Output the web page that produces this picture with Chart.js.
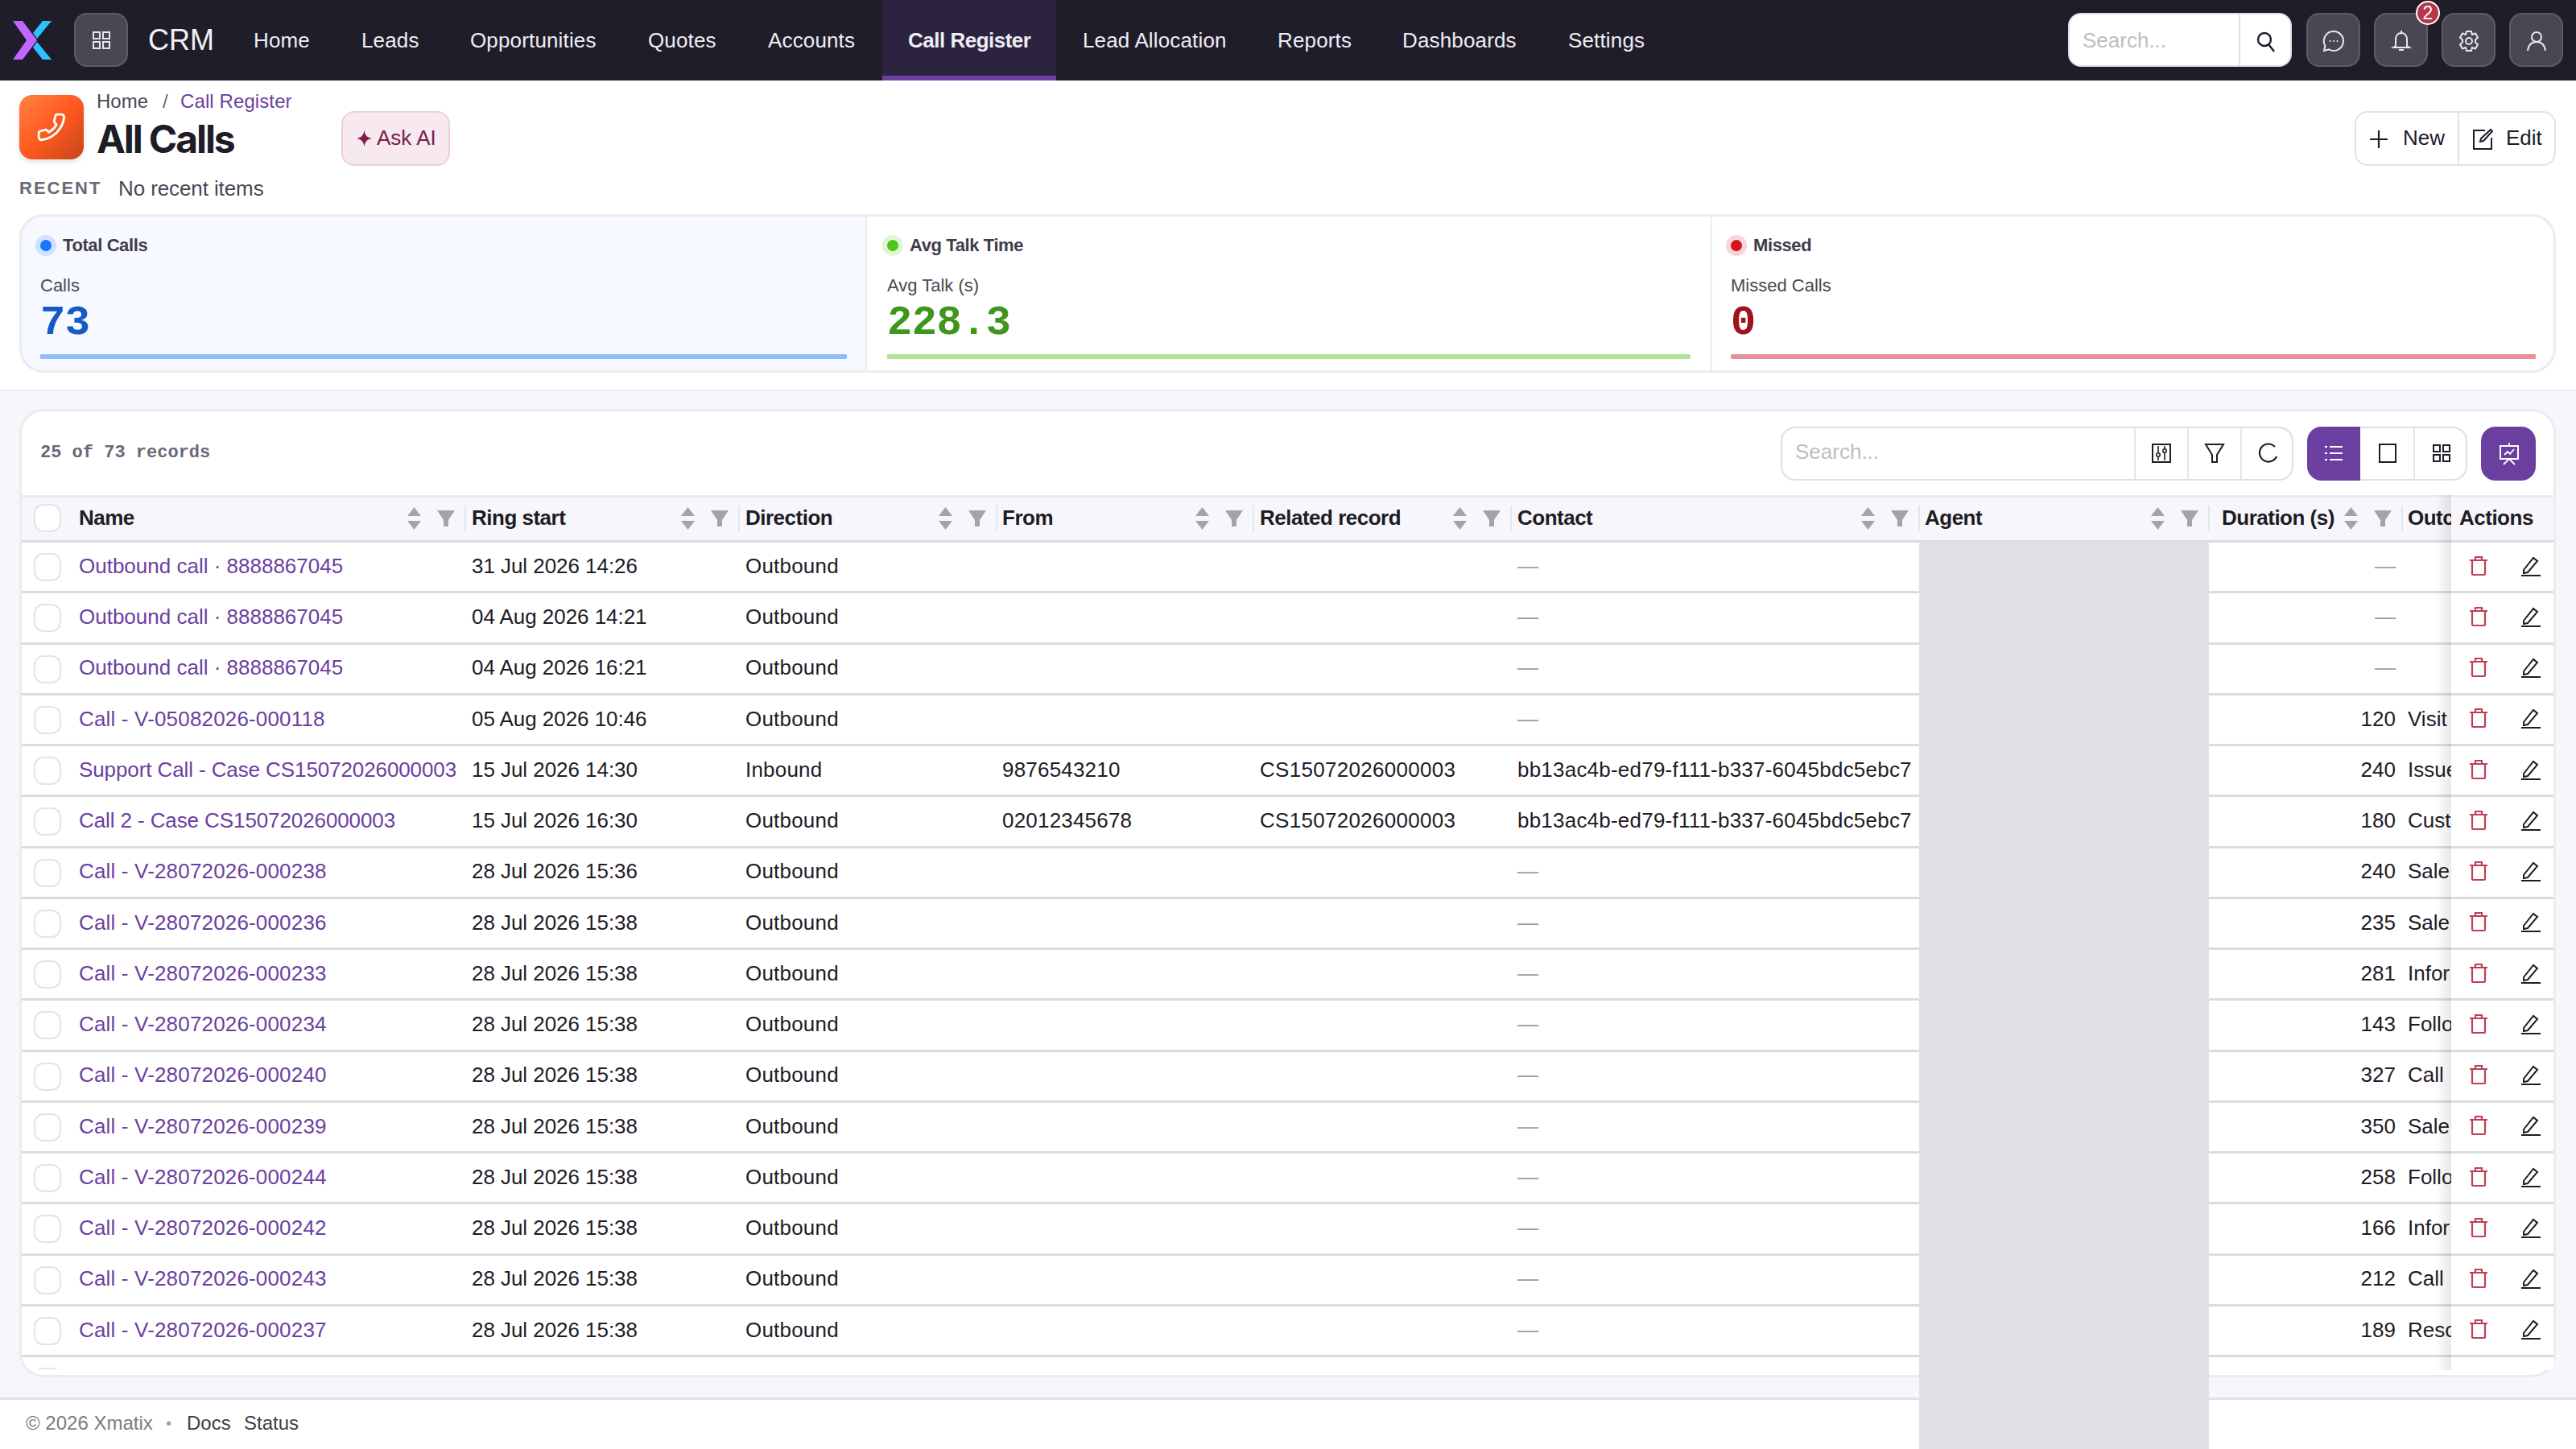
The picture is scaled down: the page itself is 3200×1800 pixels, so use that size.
<!DOCTYPE html>
<html><head><meta charset="utf-8">
<script src="https://cdn.jsdelivr.net/npm/chart.js@4"></script>
<style>
html,body{margin:0;padding:0;width:3200px;height:1800px;overflow:hidden;background:#fff;font-family:"Liberation Sans",Arial,sans-serif;color:#1e1c26}
.b{position:absolute;box-sizing:border-box}
.t{position:absolute;white-space:nowrap;line-height:1;transform:translateY(-50%)}
svg{position:absolute;overflow:visible}
canvas{position:absolute;display:block}
</style></head><body>
<div id="root" style="position:absolute;left:0;top:0;width:3200px;height:1800px;overflow:hidden"></div>
<script>
const navItems = ["Home","Leads","Opportunities","Quotes","Accounts","Call Register","Lead Allocation","Reports","Dashboards","Settings"];
const kpiTitles = ["Total Calls","Avg Talk Time","Missed"];
const kpiLabels = ["Calls","Avg Talk (s)","Missed Calls"];
const kpiDisplay = ["73","228.3","0"];
const kpiBarFill = [100,100,100];
const columns = ["Name","Ring start","Direction","From","Related record","Contact","Agent","Duration (s)","Outc"];
const names = ["Outbound call · 8888867045","Outbound call · 8888867045","Outbound call · 8888867045","Call - V-05082026-000118","Support Call - Case CS15072026000003","Call 2 - Case CS15072026000003","Call - V-28072026-000238","Call - V-28072026-000236","Call - V-28072026-000233","Call - V-28072026-000234","Call - V-28072026-000240","Call - V-28072026-000239","Call - V-28072026-000244","Call - V-28072026-000242","Call - V-28072026-000243","Call - V-28072026-000237"];
const ringStart = ["31 Jul 2026 14:26","04 Aug 2026 14:21","04 Aug 2026 16:21","05 Aug 2026 10:46","15 Jul 2026 14:30","15 Jul 2026 16:30","28 Jul 2026 15:36","28 Jul 2026 15:38","28 Jul 2026 15:38","28 Jul 2026 15:38","28 Jul 2026 15:38","28 Jul 2026 15:38","28 Jul 2026 15:38","28 Jul 2026 15:38","28 Jul 2026 15:38","28 Jul 2026 15:38"];
const direction = ["Outbound","Outbound","Outbound","Outbound","Inbound","Outbound","Outbound","Outbound","Outbound","Outbound","Outbound","Outbound","Outbound","Outbound","Outbound","Outbound"];
const fromNumbers = ["","","","","9876543210","02012345678","","","","","","","","","",""];
const related = ["","","","","CS15072026000003","CS15072026000003","","","","","","","","","",""];
const contacts = ["—","—","—","—","bb13ac4b-ed79-f111-b337-6045bdc5ebc7","bb13ac4b-ed79-f111-b337-6045bdc5ebc7","—","—","—","—","—","—","—","—","—","—"];
const durations = ["—","—","—",120,240,180,240,235,281,143,327,350,258,166,212,189];
const outcomes = ["","","","Visit","Issue","Cust","Sale","Sale","Infor","Follo","Call I","Sale","Follo","Infor","Call I","Reso"];

const root = document.getElementById('root');
const MONO = '"Liberation Mono",monospace';
function B(x,y,w,h,css){const d=document.createElement('div');d.className='b';d.style.cssText=`left:${x}px;top:${y}px;width:${w}px;height:${h}px;`+(css||'');(B.p||root).appendChild(d);return d;}
function T(x,yc,s,size,color,weight,extra){const d=document.createElement('div');d.className='t';d.textContent=s;d.style.cssText=`left:${x}px;top:${yc}px;font-size:${size}px;color:${color};font-weight:${weight||400};`+(extra||'');(B.p||root).appendChild(d);return d;}
function S(x,y,w,h,inner,vb,css){const wrap=document.createElement('div');wrap.innerHTML=`<svg xmlns="http://www.w3.org/2000/svg" style="left:${x}px;top:${y}px;${css||''}" width="${w}" height="${h}" viewBox="${vb||`0 0 ${w} ${h}`}" fill="none">${inner}</svg>`;(B.p||root).appendChild(wrap.firstChild);}
const LS='', LSB='letter-spacing:-0.5px;';
const PURPLE='#6b3fa0', INK='#1e1c26';

/* page background, footer */
B(0,484,3200,1252,'background:#f7f7fb;border-top:2px solid #eaeaf2');
B(0,1736,3200,64,'background:#fff;border-top:3px solid #e2e1ea');

/* top bar */
B(0,0,3200,100,'background:#201d2b');
S(16,26,48,48,'<path d="M0 0H12L30 24 12 48H0L17 24Z" fill="#c266ff"/><path d="M48 0H37L25 15 30 22 48 0Z" fill="#2fc0ff"/><path d="M25 33 37 48H48L30 26Z" fill="#2fc0ff"/>');
B(92,16,67,67,'background:#4a4753;border:2px solid #5f5c68;border-radius:16px');
const grid=(c)=>`<g stroke="${c}" stroke-width="2"><rect x="1" y="1" width="8" height="8"/><rect x="13" y="1" width="8" height="8"/><rect x="1" y="13" width="8" height="8"/><rect x="13" y="13" width="8" height="8"/></g>`;
S(115,39,22,22,grid('#e6e5ea'));
T(184,50,'CRM',36,'#f2f1f5',400,'');
const navX=[315,449,584,805,954,1128,1345,1587,1742,1948];
B(1096,0,216,100,'background:#2c2340;border-bottom:6px solid '+PURPLE);
navItems.forEach((n,i)=>T(navX[i],50,n,26,'#eeedf2',i===5?700:400,i===5?LSB:'letter-spacing:0.15px'));
B(2569,16,278,67,'background:#fff;border:2px solid #dfdfe8;border-radius:16px');
B(2781,17,2,65,'background:#dfdfe8');
T(2587,50,'Search...',26,'#bdbdc2',400,LS);
S(2803,39,24,26,'<circle cx="10" cy="10" r="8" stroke="#1e1c26" stroke-width="2.4"/><path d="M15 16 22 25" stroke="#1e1c26" stroke-width="2.4"/>');
[2865,2949,3033,3117].forEach(x=>B(x,16,67,67,'background:#4a4753;border:2px solid #5f5c68;border-radius:16px'));
const wh='#e9e8ee';
S(2886,38,26,26,`<path d="M13 1a12 12 0 1 1-6 22.4L1 25l1.4-6A12 12 0 0 1 13 1Z" stroke="${wh}" stroke-width="2"/><circle cx="8.5" cy="13" r="1.1" fill="${wh}"/><circle cx="13" cy="13" r="1.1" fill="${wh}"/><circle cx="17.5" cy="13" r="1.1" fill="${wh}"/>`);
S(2972,38,22,26,`<path d="M11 3c5 0 7 4 7 8v8l3 2H1l3-2v-8c0-4 2-8 7-8Z M11 0v3 M8 24h6" stroke="${wh}" stroke-width="2"/>`);
S(3054,38,26,26,`<path d="M10 1h6l1 4 4-1.5 3 5-3 3v3l3 3-3 5-4-1.5-1 4h-6l-1-4-4 1.5-3-5 3-3v-3l-3-3 3-5L9 5Z" stroke="${wh}" stroke-width="2"/><circle cx="13" cy="13" r="4" stroke="${wh}" stroke-width="2"/>`);
S(3139,39,24,24,`<circle cx="12" cy="7" r="6" stroke="${wh}" stroke-width="2"/><path d="M1 24c1-7 5-11 11-11s10 4 11 11" stroke="${wh}" stroke-width="2"/>`);
B(3001,1,30,30,'background:#b5384a;border:2px solid #fff;border-radius:50%');
T(3016,16,'2',23,'#fff',400,'transform:translate(-50%,-50%)');

/* page header */
B(24,118,80,80,'border-radius:16px;background:linear-gradient(135deg,#ff8146 0%,#ff5a1e 50%,#c6451b 100%);box-shadow:0 3px 6px rgba(0,0,0,.12)');
S(45,139,38,38,'<g transform="translate(24,0) scale(-1,1)"><path d="M22 16.92v3a2 2 0 0 1-2.18 2 19.79 19.79 0 0 1-8.63-3.07 19.5 19.5 0 0 1-6-6 19.79 19.79 0 0 1-3.07-8.67A2 2 0 0 1 4.11 2h3a2 2 0 0 1 2 1.72 12.84 12.84 0 0 0 .7 2.81 2 2 0 0 1-.45 2.11L8.09 9.91a16 16 0 0 0 6 6l1.27-1.27a2 2 0 0 1 2.11-.45 12.84 12.84 0 0 0 2.81.7A2 2 0 0 1 22 16.92z" stroke="#fff" stroke-width="1.8" stroke-linejoin="round"/></g>','0 0 24 24');
T(120,126,'Home',24,'#4a4753',400,LS);
T(202,126,'/',24,'#6b6878',400);
T(224,126,'Call Register',24,PURPLE,400,'letter-spacing:0.1px');
T(120,173,'All Calls',48,INK,700,'font-family:Inter,sans-serif;letter-spacing:-2.1px');
B(424,138,135,68,'background:#f7e9f0;border:2px solid #eccfdc;border-radius:16px');
S(443,162,19,20,'<path d="M9.5 0C10.5 6 13 9 19 10 13 11 10.5 14 9.5 20 8.5 14 6 11 0 10 6 9 8.5 6 9.5 0Z" fill="#7a2048"/>');
T(468,171,'Ask AI',26,'#7a2048',400,LS);
T(24,234,'RECENT',22,'#6b6878',700,'letter-spacing:2px');
T(147,234,'No recent items',26,'#4a4753',400,'letter-spacing:-0.1px');
B(2925,138,250,68,'background:#fff;border:2px solid #e2e1ea;border-radius:16px');
B(3053,139,2,66,'background:#e2e1ea');
S(2944,162,22,22,'<path d="M11 0v22M0 11h22" stroke="#1e1c26" stroke-width="2.2"/>');
T(2985,171,'New',26,INK,400,LS);
S(3072,160,24,26,'<path d="M15 2H1v23h22V11" stroke="#1e1c26" stroke-width="2"/><path d="M22 1l2 2-11 12-4 1 1-4Z" stroke="#1e1c26" stroke-width="2"/>');
T(3113,171,'Edit',26,INK,400,LS);

/* KPI strip */
B(24,266,3151,197,'background:#fff;border:3px solid #ebebf2;border-radius:30px');
B(24,266,1053,197,'background:#f6f9ff;border:3px solid #ebebf2;border-right:2px solid #ebebf2;border-radius:30px 0 0 30px');
B(2125,268,2,193,'background:#ebebf2');
const kpiX=[50,1102,2150], kpiW=[1002,998,1000];
const kpiDot=['#1677ff','#52c41a','#d4141f'], kpiHalo=['#cfe2ff','#e0f5d6','#f8d5d8'];
const kpiVal=['#155bc4','#3f961c','#a1121f'], kpiBar=['#8fbcfb','#b0e398','#e88f98'];
kpiTitles.forEach((t,i)=>{
  const x=kpiX[i];
  B(x-6,292,26,26,`background:${kpiHalo[i]};border-radius:50%`);
  B(x,298,14,14,`background:${kpiDot[i]};border-radius:50%`);
  T(x+28,305,t,22,'#3f3c4a',700,'letter-spacing:-0.4px');
  T(x,354.5,kpiLabels[i],22,'#4a4753',400,LS);
  T(x,402,kpiDisplay[i],52,kpiVal[i],700,`font-family:${MONO};letter-spacing:-0.5px`);
  const c=document.createElement('canvas');
  c.style.left=x+'px';c.style.top='440px';c.width=kpiW[i];c.height=6;
  c.style.width=kpiW[i]+'px';c.style.height='6px';root.appendChild(c);
  new Chart(c,{type:'bar',data:{labels:[t],datasets:[{data:[kpiBarFill[i]],backgroundColor:kpiBar[i],borderRadius:3,borderSkipped:false,barPercentage:1,categoryPercentage:1}]},
    options:{indexAxis:'y',responsive:false,animation:false,devicePixelRatio:1,layout:{padding:0},plugins:{legend:{display:false},tooltip:{enabled:false},title:{display:false}},scales:{x:{display:false,min:0,max:100},y:{display:false}}}});
});

/* table card */
B(24,508,3151,1203,'background:#fff;border:3px solid #ebebf2;border-radius:30px');
T(50,563,'25 of 73 records',22,'#6b6878',700,`font-family:${MONO}`);
B(2212,530,637,67,'background:#fff;border:2px solid #dedee6;border-radius:18px');
[2651,2717,2783].forEach(x=>B(x,531,2,65,'background:#e4e4ec'));
T(2230,561,'Search...',26,'#bdbdc2',400,LS);
const ic='#1e1c26';
S(2673,551,24,24,`<rect x="1" y="1" width="22" height="22" stroke="${ic}" stroke-width="2"/><path d="M8 3v18M16 3v18" stroke="${ic}" stroke-width="1.6"/><circle cx="8" cy="14" r="2.2" fill="#fff" stroke="${ic}" stroke-width="1.6"/><circle cx="16" cy="9" r="2.2" fill="#fff" stroke="${ic}" stroke-width="1.6"/>`);
S(2739,551,24,24,`<path d="M1 1h22L15 14v9H9v-9Z" stroke="${ic}" stroke-width="2"/>`);
S(2805,550,24,26,`<path d="M21 5A11 11 0 1 0 23 17" stroke="${ic}" stroke-width="2.2"/>`);
B(2866,530,199,67,'background:#fff;border:2px solid #dedee6;border-radius:18px');
B(2866,530,66,67,'background:'+PURPLE+';border-radius:18px 0 0 18px');
B(2998,531,2,65,'background:#e4e4ec');
S(2888,552,22,22,'<path d="M6 3h16M6 11h16M6 19h16" stroke="#fff" stroke-width="2"/><path d="M0 3h3M0 11h3M0 19h3" stroke="#fff" stroke-width="2"/>');
S(2955,551,22,24,`<rect x="1" y="1" width="20" height="22" stroke="${ic}" stroke-width="2"/>`);
S(3022,552,22,22,grid(ic));
B(3082,530,68,67,'background:'+PURPLE+';border-radius:18px');
S(3105,550,24,28,'<rect x="1" y="4" width="22" height="16" stroke="#fff" stroke-width="2"/><path d="M12 0v4M5 27l7-7 7 7M6 15l4-4 3 3 5-6" stroke="#fff" stroke-width="1.8"/>');

/* table */
const tableClip=B(27,610,3145,1092,'overflow:hidden');
const OX=27, OY=610;
const prev=B.p; B.p=tableClip;
const bx=x=>x-OX, by=y=>y-OY;
B(0,by(615),3145,59,'background:#f7f7fb;border-top:3px solid #ebebf2;border-bottom:3px solid #dcdce0');
const colX=[98,586,926,1245,1565,1885,2391,2760,2991];
const sepX=[577,917,1237,1556,1876,2383,2743,2983];
const ROW0=673, RH=63.25;
B(bx(2384),by(673),360,1130,'background:#e3e1e8');
for(let r=0;r<17;r++){
  const yb=ROW0+RH*(r+1);
  if(r<16){
    B(0,by(yb-2),bx(2384),3,'background:#dcdce0');
    B(bx(2744),by(yb-2),3145,3,'background:#dcdce0');
  }
  B(bx(42),by(ROW0+RH*r+14),34,35,'background:#fff;border:2px solid #e3e3ee;border-radius:12px');
}
B(bx(42),by(626),34,35,'background:#fff;border:2px solid #e3e3ee;border-radius:12px');
names.forEach((n,r)=>{
  const y=by(702.8+RH*r);
  const nameSp=n.startsWith('Call - V')?'letter-spacing:0.17px':(n.includes('Case')?'letter-spacing:-0.1px':'');
  T(bx(colX[0]),y,n,26,PURPLE,400,nameSp);
  T(bx(colX[1]),y,ringStart[r],26,INK,400,'letter-spacing:-0.05px');
  T(bx(colX[2]),y,direction[r],26,INK,400,'letter-spacing:0.2px');
  if(fromNumbers[r])T(bx(colX[3]),y,fromNumbers[r],26,INK,400,'letter-spacing:0.2px');
  if(related[r])T(bx(colX[4]),y,related[r],26,INK,400,'letter-spacing:0.3px');
  const c=contacts[r];
  T(bx(colX[5]),y,c,26,c==='—'?'#9c9aa4':INK,400,c==='—'?'':'letter-spacing:0.22px');
  const d=T(0,y,String(durations[r]),26,durations[r]==='—'?'#9c9aa4':INK,400,LS);
  d.style.left='auto';d.style.right=(3145-bx(2976))+'px';
  if(outcomes[r])T(bx(colX[8]),y,outcomes[r],26,INK,400,LS);
});
/* header cells */
const hy=by(643);
columns.forEach((c,i)=>T(bx(colX[i]),hy,c,26,INK,700,LSB));
const sortIc='<path d="M8.5 0 17 11H0Z M0 17H17L8.5 28Z" fill="#a5a2ae"/>';
const filtIc='<path d="M0 0H22L14 12V20H8V12Z" fill="#a5a2ae"/>';
sepX.forEach(x=>{
  B(bx(x),by(628),2,32,'background:#e4e4ec');
  S(bx(x-71.5),by(630),17,28,sortIc);
  S(bx(x-34),by(634),22,20,filtIc);
});
/* sticky actions column */
B(bx(3025),by(615),20,1088,'background:linear-gradient(to right,rgba(0,0,0,0),rgba(0,0,0,.09))');
B(bx(3045),by(618),127,1090,'background:#fff');
B(bx(3045),by(618),127,56,'background:#f7f7fb;border-bottom:3px solid #dcdce0');
T(bx(3055),hy,'Actions',26,INK,700,LSB);
B(bx(3173),by(628),2,32,'background:#e4e4ec');
for(let r=0;r<16;r++){
  const yc=702.6+RH*r;
  B(bx(3045),by(ROW0+RH*(r+1)-2),127,3,'background:#dcdce0');
  S(bx(3068),by(yc-12),22,24,'<path d="M0 5h22M3 5v17a1 1 0 0 0 1 1h14a1 1 0 0 0 1-1V5M7 5V1h8v4" stroke="#bf4054" stroke-width="2.2"/>');
  S(bx(3132),by(yc-12),24,24,`<path d="M3 17 15 2l5 4L8 20l-5 1Z" stroke="${ic}" stroke-width="2"/><path d="M0 24h24" stroke="${ic}" stroke-width="2"/>`);
}
B.p=prev;

/* agent column overflows over the footer */
B(2384,1695,360,105,'background:#e3e1e8');

/* footer */
T(32,1768,'© 2026 Xmatix',24,'#7d7a87',400,LS);
T(206,1768,'•',20,'#a5a2ae',400);
T(232,1768,'Docs',24,'#3f3c4a',400,LS);
T(303,1768,'Status',24,'#3f3c4a',400,LS);
</script>
</body></html>
